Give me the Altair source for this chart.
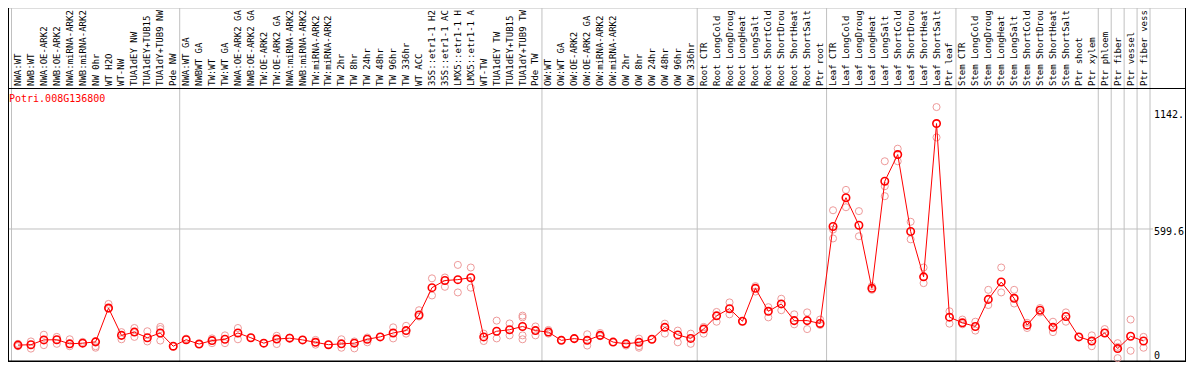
import altair as alt
import pandas as pd

gene = "Potri.008G136800"

labels = [
    "NWA:WT", "NWB:WT", "NWA:OE-ARK2", "NWB:OE-ARK2", "NWA:miRNA-ARK2", "NWB:miRNA-ARK2",
    "NW 0hr", "WT H2O", "WT-NW", "TUA1dEY NW", "TUA1dEY+TUB15", "TUA1dY+TUB9 NW", "Pde NW",
    "NWA:WT GA", "NWBWT GA", "TW:WT", "TW:WT GA", "NWA:OE-ARK2 GA", "NWB:OE-ARK2 GA",
    "TW:OE-ARK2", "TW:OE-ARK2 GA", "NWA:miRNA-ARK2", "NWB:miRNA-ARK2", "TW:miRNA-ARK2",
    "TW:miRNA-ARK2", "TW 2hr", "TW 8hr", "TW 24hr", "TW 48hr", "TW 96hr", "TW 336hr",
    "WT ACC", "35S::etr1-1 H2", "35S::etr1-1 AC", "LMX5::etr1-1 H", "LMX5::etr1-1 A",
    "WT-TW", "TUA1dEY TW", "TUA1dEY+TUB15", "TUA1dY+TUB9 TW", "Pde TW",
    "OW:WT", "OW:WT GA", "OW:OE-ARK2", "OW:OE-ARK2 GA", "OW:miRNA-ARK2", "OW:miRNA-ARK2",
    "OW 2hr", "OW 8hr", "OW 24hr", "OW 48hr", "OW 96hr", "OW 336hr",
    "Root CTR", "Root LongCold", "Root LongDroug", "Root LongHeat", "Root LongSalt",
    "Root ShortCold", "Root ShortDrou", "Root ShortHeat", "Root ShortSalt", "Ptr root",
    "Leaf CTR", "Leaf LongCold", "Leaf LongDroug", "Leaf LongHeat", "Leaf LongSalt",
    "Leaf ShortCold", "Leaf ShortDrou", "Leaf ShortHeat", "Leaf ShortSalt", "Ptr leaf",
    "Stem CTR", "Stem LongCold", "Stem LongDroug", "Stem LongHeat", "Stem LongSalt",
    "Stem ShortCold", "Stem ShortDrou", "Stem ShortHeat", "Stem ShortSalt", "Ptr shoot",
    "Ptr xylem", "Ptr phloem", "Ptr fiber", "Ptr vessel", "Ptr fiber vess",
]

group_sizes = [13, 28, 12, 10, 10, 11, 1, 1, 1, 1]

means = [
    64, 66, 88, 89, 70, 73, 79, 235, 109, 124, 98, 120, 59,
    89, 69, 85, 91, 120, 98, 73, 92, 96, 88, 77, 66, 70, 73, 91, 102, 120, 131,
    203, 329, 362, 366, 375, 102, 128, 135, 150, 131,
    124, 86, 94, 86, 109, 78, 70, 77, 91, 146, 111, 95,
    138, 199, 232, 174, 326, 220, 254, 177, 177, 164,
    611, 744, 617, 326, 820, 943, 588, 379, 1086, 193,
    167, 150, 275, 355, 280, 156, 225, 146, 196, 102, 83,
    120, 48, 105, 83,
]

replicates = [
    [70, 59], [81, 48], [112, 64], [102, 70], [91, 59], [79, 73], [81, 59, 52],
    [254, 232], [124, 91], [143, 102], [128, 81], [148, 138, 85], [59],
    [94], [69], [95, 73], [109, 73], [143, 91], [98], [73], [107, 69], [99], [88],
    [88, 66], [66], [91, 52], [81, 49], [99, 77], [102], [146, 95], [153, 117],
    [225, 196], [372, 293], [376, 333], [434, 307], [422, 329], [117, 83],
    [177, 95], [164, 109], [200, 192, 109, 91], [150, 109],
    [134, 117], [88], [94], [114, 62], [120, 105], [78], [70, 62], [94, 59, 52],
    [91], [163, 117], [131, 77], [117, 70],
    [148, 117], [217, 172], [261, 206], [174], [336, 311], [239, 192], [278, 225],
    [206, 160], [215, 138], [182, 157],
    [686, 556, 597], [780, 700], [682, 566], [319, 336], [912, 751, 797], [970, 912],
    [633, 552], [422, 350], [1162, 1022], [220, 163],
    [182, 160], [172, 131], [319, 249], [422, 307], [319, 256], [167, 143], [235, 215],
    [172, 124], [215, 172], [102], [109, 59],
    [138, 120], [73, 4, 56], [182, 38], [102, 52],
]

axis_values = [0, 599.6, 1142]
axis_texts = ["0", "599.6", "1142."]

# ---- layout (pixels) ----
W, H = 1178, 354
X0, X1 = 3.5, 1142
Y0, Y1 = 351, 103.4
LABEL_LINE = 80.5
MONO = "DejaVu Sans Mono"

n = len(labels)
xs = alt.Scale(domain=[0, n], range=[X0, X1], nice=False, zero=False)
ys = alt.Scale(domain=[0, axis_values[-1]], range=[Y0, Y1], nice=False, zero=False)

df_mean = pd.DataFrame({"pos": [i + 0.5 for i in range(n)], "value": means, "label": labels})
df_rep = pd.DataFrame(
    [{"pos": i + 0.5, "value": v} for i, vals in enumerate(replicates) for v in vals]
)
bounds = [0]
for g in group_sizes:
    bounds.append(bounds[-1] + g)
df_bound = pd.DataFrame({"b": bounds})
df_axis = pd.DataFrame({"v": axis_values, "t": axis_texts})

X = lambda f: alt.X(f, type="quantitative", scale=xs, axis=None)
Y = lambda f: alt.Y(f, type="quantitative", scale=ys, axis=None)

grid_v = alt.Chart(df_bound).mark_rule(color="#c0c0c0", strokeWidth=1).encode(
    x=X("b"), y=alt.value(0), y2=alt.value(H)
)
grid_h = alt.Chart(df_axis.iloc[1:2]).mark_rule(color="#c0c0c0", strokeWidth=1).encode(
    y=Y("v"), x=alt.value(0), x2=alt.value(X1 + 3)
)

frame_left = alt.Chart(df_axis.iloc[:1]).mark_rule(color="black", strokeWidth=1).encode(
    x=alt.value(0.5), y=alt.value(0), y2=alt.value(H)
)
frame_right = alt.Chart(df_axis.iloc[:1]).mark_rule(color="black", strokeWidth=1).encode(
    x=alt.value(W - 0.5), y=alt.value(0), y2=alt.value(H)
)
frame_mid = alt.Chart(df_axis.iloc[:1]).mark_rule(color="black", strokeWidth=1).encode(
    y=alt.value(LABEL_LINE), x=alt.value(0), x2=alt.value(W)
)
frame_bot = alt.Chart(df_axis.iloc[:1]).mark_rule(color="black", strokeWidth=1.5).encode(
    y=alt.value(H - 0.75), x=alt.value(0), x2=alt.value(W)
)

col_labels = alt.Chart(df_mean).mark_text(
    angle=270, align="left", baseline="middle", font=MONO, fontSize=9, color="black"
).encode(x=X("pos"), y=alt.value(LABEL_LINE - 2.5), text="label:N")

rep_pts = alt.Chart(df_rep).mark_point(
    shape="circle", filled=False, color="#ee9a9a", size=50, strokeWidth=1, opacity=1
).encode(x=X("pos"), y=Y("value"))

line = alt.Chart(df_mean).mark_line(color="#ff0000", strokeWidth=1).encode(
    x=X("pos"), y=Y("value")
)

mean_pts = alt.Chart(df_mean).mark_point(
    shape="circle", filled=False, color="#ff0000", size=55, strokeWidth=1.6, opacity=1
).encode(x=X("pos"), y=Y("value"))

title = alt.Chart(pd.DataFrame({"t": [gene]})).mark_text(
    align="left", baseline="middle", font=MONO, fontSize=10, color="#ff0000"
).encode(x=alt.value(1), y=alt.value(LABEL_LINE + 10), text="t:N")

axis_top = alt.Chart(df_axis.iloc[1:]).mark_text(
    align="left", baseline="middle", font=MONO, fontSize=10, color="black", dy=3.5
).encode(x=alt.value(X1 + 4), y=Y("v"), text="t:N")
axis_zero = alt.Chart(df_axis.iloc[:1]).mark_text(
    align="left", baseline="middle", font=MONO, fontSize=10, color="black", dy=-3
).encode(x=alt.value(X1 + 4), y=Y("v"), text="t:N")

chart = alt.layer(
    grid_v, grid_h, frame_left, frame_right, frame_mid, frame_bot,
    col_labels, rep_pts, line, mean_pts, title, axis_top, axis_zero,
).properties(
    width=W, height=H, padding=0, autosize=alt.AutoSizeParams(type="none")
).configure_view(stroke=None).configure(background="white")

chart.save("out.html", embed_options={"renderer": "svg", "actions": False})
